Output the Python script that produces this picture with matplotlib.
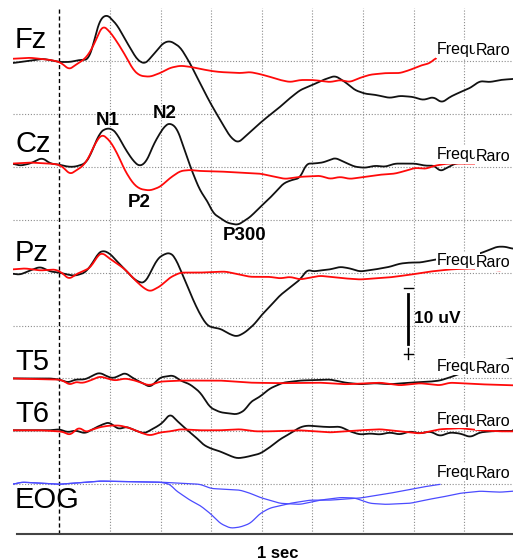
import numpy as np
import matplotlib
matplotlib.use("Agg")
import matplotlib.pyplot as plt

# ERP oddball averages, (ms, uV) pairs, negative up
# black = rare ("Raro"), red = frequent ("Frequ")
fz_rare = [(-92, 0.4), (-32, -0.4), (0, 0.2), (21, 0.2), (41, -0.2), (57, -0.2), (67, -3.0), (74, -5.8),
           (80, -7.8), (94, -8.8), (114, -6.8), (134, -3.4), (154, -0.2), (169, 0.6), (185, -1.1),
           (205, -3.4), (219, -3.8), (239, -2.6), (258, 0.4), (278, 4.2), (298, 7.9), (318, 11.2),
           (338, 14.4), (353, 15.5), (373, 13.8), (397, 11.7), (416, 10.2), (436, 8.7), (456, 7.0),
           (476, 5.5), (501, 4.5), (521, 3.6), (545, 2.8), (565, 4.0), (584, 5.5), (604, 6.2),
           (624, 6.4), (653, 7.0), (673, 6.6), (699, 6.8), (719, 7.4), (739, 6.8), (756, 7.9),
           (772, 6.8), (792, 5.9), (812, 5.1), (831, 3.8), (851, 4.0), (871, 3.6), (896, 3.4)]
fz_freq = [(-92, -0.4), (-58, -0.6), (-18, -0.2), (0, 0.2), (11, 0.9), (19, 1.7), (31, 0.8), (45, 0),
           (57, -1.1), (71, -3.6), (80, -5.7), (86, -6.7), (100, -5.5), (114, -3.6), (130, -1.1),
           (146, 1.7), (159, 2.8), (179, 3.0), (199, 2.3), (219, 1.3), (239, 0.9), (258, 1.1),
           (278, 1.5), (300, 1.9), (318, 2.1), (357, 2.3), (377, 2.1), (397, 2.5), (416, 3.0),
           (436, 3.6), (456, 4.0), (476, 3.6), (501, 3.6), (535, 4.0), (555, 3.6), (574, 4.0),
           (594, 3.2), (614, 2.6), (644, 2.3), (673, 2.3), (693, 1.7), (713, 0.9), (733, 0.4), (744, -0.6)]

cz_rare = [(-92, -0.6), (-78, -0.2), (-58, -0.6), (-34, -1.7), (-18, -0.6), (0, -0.4), (17, 0), (31, 0),
           (51, -0.6), (61, -2.1), (71, -4.5), (80, -6.4), (90, -7.2), (104, -7.2), (114, -6.2),
           (130, -3.4), (146, -1.1), (159, 0), (173, -1.1), (185, -4.0), (199, -6.4), (209, -7.8),
           (219, -8.3), (233, -7.2), (248, -3.0), (262, 0.8), (278, 4.5), (292, 6.4), (304, 8.8),
           (332, 10.6), (353, 11.0), (377, 9.5), (397, 7.6), (416, 5.9), (430, 4.5), (442, 3.2),
           (456, 2.6), (476, 2.1), (488, -0.6), (501, -0.6), (521, -0.8), (545, -1.7), (565, -0.8),
           (584, 0), (604, 0.2), (624, -0.2), (644, 0), (663, -0.6), (683, -0.6), (703, -0.6),
           (723, -0.2), (742, -0.2), (752, 0.9), (762, 0.4), (782, -0.6), (802, -0.9), (816, -1.5)]
cz_freq = [(-92, -0.6), (-58, -0.8), (-18, -0.6), (0, -0.4), (11, 0.4), (21, 1.5), (31, 0.8), (45, 0),
           (57, -1.5), (71, -4.5), (84, -6.2), (100, -4.9), (114, -2.6), (130, 0.8), (146, 3.2),
           (159, 4.2), (179, 4.5), (199, 3.8), (219, 2.1), (239, 0.8), (258, 0.6), (278, 0.8),
           (318, 0.9), (357, 1.1), (397, 1.3), (446, 2.3), (476, 1.9), (515, 1.7), (535, 2.3),
           (555, 1.9), (574, 2.3), (604, 1.9), (634, 1.5), (663, 1.3), (683, 0.8), (703, 0.2),
           (723, 0.4), (742, -0.2), (766, -0.6), (838, -0.6), (887, -0.6)]

pz_rare = [(-92, 0.2), (-78, 0.4), (-58, -0.4), (-38, -1.1), (-18, -0.2), (0, 0), (17, 0.4), (31, 0.6),
           (51, 0), (65, -1.7), (76, -3.6), (86, -4.2), (100, -3.6), (114, -2.1), (130, -0.6),
           (146, 1.1), (159, 1.9), (169, 1.9), (179, 0.2), (193, -2.5), (205, -3.4), (219, -3.8),
           (229, -2.8), (239, -0.6), (252, 2.3), (264, 5.1), (278, 7.9), (292, 10.0), (304, 10.4),
           (318, 10.6), (338, 11.7), (351, 12.1), (367, 11.3), (387, 9.6), (397, 8.3), (416, 6.4),
           (436, 4.3), (456, 2.8), (476, 1.3), (490, -0.6), (501, -0.2), (515, -0.4), (535, -0.6),
           (555, -1.1), (574, -0.8), (594, -0.2), (624, -0.6), (653, -1.1), (673, -1.7), (693, -1.9),
           (713, -1.9), (733, -2.3), (746, -2.5), (831, -3.6), (865, -4.9), (881, -4.9), (896, -4.5)]
pz_freq = [(-92, -0.6), (-68, -0.8), (-38, -0.4), (-8, -0.6), (5, 0), (19, 1.3), (31, 0.4), (45, -0.2),
           (61, -0.9), (76, -3.2), (84, -3.8), (100, -2.6), (114, -1.7), (130, -0.6), (146, 1.1),
           (165, 2.8), (179, 3.6), (199, 2.6), (219, 0.9), (239, 0), (278, 0), (328, -0.2), (377, 0.8),
           (416, 0.8), (436, 1.1), (456, 0.8), (476, 1.3), (515, 0.6), (565, 1.1), (594, 1.3),
           (653, 0.9), (693, 0.4), (733, -0.2), (772, -0.6), (812, -0.8), (871, -0.4)]

t5_rare = [(-92, 0), (-58, 0), (-18, 0), (0, 0.2), (17, 0.8), (31, 0.2), (51, 0.2), (71, -0.8), (80, -1.1),
           (94, -0.4), (106, 0), (120, -0.6), (130, -1.1), (140, -0.4), (154, 0.4), (169, 1.1),
           (179, 1.7), (189, 0.8), (199, -0.2), (213, -0.4), (225, -0.6), (239, 0.4), (258, 1.1),
           (278, 2.6), (298, 5.5), (318, 6.4), (351, 6.8), (367, 6.0), (377, 4.5), (397, 3.4),
           (416, 1.9), (442, 0.8), (476, 0.4), (535, 0.2), (565, 0.8), (594, 1.1), (624, 0.9),
           (653, 1.1), (693, 0.8), (733, 0.6), (752, 0.4), (772, -0.2), (792, -0.9), (812, -1.9),
           (885, -3.6), (896, -3.8)]
t5_freq = [(-92, 0), (-18, 0.2), (0, 0.2), (11, 0.6), (21, 1.3), (31, 0.6), (45, 0.9), (61, 0.4),
           (80, -0.4), (94, 0), (110, 0.4), (130, 0), (150, 0.4), (169, 1.1), (179, 1.3), (199, 0.6),
           (239, 0.4), (318, 0.4), (377, 0.8), (436, 0.9), (515, 0.8), (565, 1.1), (634, 0.8),
           (673, 1.3), (713, 0.9), (752, 1.3), (772, 0.8), (831, 1.1), (896, 1.3)]

t6_rare = [(-92, -0.2), (-18, -0.2), (0, -0.4), (17, 0.2), (31, -0.2), (51, 0.4), (65, -0.4), (76, -0.9),
           (90, -1.5), (100, -1.7), (110, -0.8), (120, -0.4), (130, -0.9), (140, -0.6), (154, 0),
           (169, 0.4), (179, -0.2), (193, -0.9), (205, -1.7), (219, -3.4), (229, -2.3), (245, -0.9),
           (258, 0.2), (272, 1.3), (284, 2.5), (298, 3.2), (318, 3.8), (334, 4.5), (351, 5.1),
           (367, 4.9), (397, 4.2), (416, 3.0), (436, 1.5), (456, 0.4), (476, -0.8), (490, -1.1),
           (515, -0.9), (535, -0.8), (555, -0.9), (574, 0), (594, 0.6), (614, 0.4), (634, 0.6),
           (653, 0.2), (673, 0.6), (693, 0), (713, 0.4), (733, 0), (752, 0.9), (772, 0.2), (792, 0.4),
           (812, 1.1), (831, 0.2), (851, 0), (896, -0.2)]
t6_freq = [(-92, -0.2), (-38, -0.2), (0, 0), (11, 0.2), (21, 0.8), (31, -0.2), (41, -0.8), (51, 0.2),
           (61, -0.2), (80, -0.8), (100, -1.1), (120, -1.1), (140, -0.6), (159, 0.2), (179, 0.8),
           (199, 0.2), (219, 0), (239, -0.4), (278, -0.2), (318, -0.2), (357, -0.4), (387, 0),
           (416, 0), (476, -0.2), (535, 0.2), (594, -0.2), (634, -0.4), (673, 0), (713, 0.4),
           (752, -0.4), (792, -0.6), (831, -0.2), (871, 0), (896, 0)]

eog_rare = [(-92, 0), (-74, -0.4), (0, 0), (80, -0.6), (199, -0.4), (219, 0), (229, 1.1), (258, 3.0),
            (278, 4.0), (298, 5.5), (318, 7.4), (338, 8.3), (357, 8.1), (377, 7.4), (397, 5.5),
            (416, 4.5), (456, 3.6), (495, 3.0), (535, 3.0), (594, 2.6), (653, 1.7), (713, 0.6), (752, 0)]
eog_freq = [(-92, 0), (-74, -0.4), (0, 0), (80, -0.6), (199, -0.4), (278, 0), (300, 0.8), (357, 1.1),
            (377, 1.7), (397, 2.5), (436, 3.6), (476, 3.8), (515, 3.0), (555, 2.5), (584, 2.6),
            (614, 3.6), (644, 3.8), (693, 3.6), (733, 2.8), (752, 2.5), (792, 1.7), (831, 1.3),
            (871, 1.5), (896, 1.3)]

channels = ['Fz', 'Cz', 'Pz', 'T5', 'T6', 'EOG']
offsets = [10, 30, 50, 70, 80, 90]   # row baselines, one grid row = 10 uV
rare = [fz_rare, cz_rare, pz_rare, t5_rare, t6_rare, eog_rare]
freq = [fz_freq, cz_freq, pz_freq, t5_freq, t6_freq, eog_freq]
name_y = [7.6, 27.2, 47.8, 68.4, 78.3, 94.5]

peaks = ['N1', 'N2', 'P2', 'P300']
peak_t = [71, 185, 136, 323]
peak_y = [22.1, 20.8, 37.6, 43.9]

font = ['Liberation Sans', 'DejaVu Sans']


def trace(points, win=7):
    # resample the read-off points every 2 ms and round the corners a bit
    t, v = np.array(points, dtype=float).T
    tt = np.arange(t[0], t[-1] + 0.1, 2.0)
    vv = np.interp(tt, t, v)
    pad = np.pad(vv, win // 2, mode='edge')
    vv = np.convolve(pad, np.ones(win) / win, mode='valid')
    return tt, vv


fig = plt.figure(figsize=(5.13, 5.6), dpi=100)
ax = fig.add_axes([0.0248, 0.0464, 0.9752, 0.9393])
ax.set_xlim(-92.2, 896.5)
ax.set_ylim(99.4, 0)
ax.axis('off')

dot = dict(color='#8c8c8c', lw=0.8, ls=(0, (1, 1.6)), zorder=1)
for t in range(100, 900, 100):
    ax.axvline(t, **dot)
for y in range(10, 100, 10):
    ax.axhline(y, **dot)
ax.axvline(0, color='black', lw=1, ls=(0, (3, 2)), zorder=2)
ax.axhline(99.4, xmin=0.009, color='#444444', lw=1.5, zorder=2, clip_on=False)

for i, ch in enumerate(channels):
    rt, rv = trace(rare[i])
    ft, fv = trace(freq[i])
    if ch == 'EOG':
        ax.plot(rt, offsets[i] + rv, color='#4b4bff', lw=0.9, zorder=3)
        ax.plot(ft, offsets[i] + fv, color='#4b4bff', lw=0.9, zorder=3)
    else:
        ax.plot(rt, offsets[i] + rv, color='#111111', lw=1.3, zorder=3)
        ax.plot(ft, offsets[i] + fv, color='#ff0a0a', lw=1.3, zorder=4)
    ax.text(-87.5, name_y[i], ch, fontsize=21, family=font, va='baseline', ha='left', zorder=6)
    box = dict(facecolor='white', edgecolor='none', boxstyle='square,pad=0.08')
    ax.text(746, offsets[i] - 1.4, 'Frequ', fontsize=11.5, family=font, va='baseline', ha='left',
            bbox=box, zorder=6)
    ax.text(823, offsets[i] - 1.1, 'Raro', fontsize=11.5, family=font, va='baseline', ha='left',
            bbox=box, zorder=7)

for name, t, y in zip(peaks, peak_t, peak_y):
    ax.text(t, y, name, fontsize=13.5, family=font, weight='bold', va='baseline', ha='left', zorder=6)

# 10 uV calibration bar
ax.plot([689, 689], [54.0, 63.5], color='black', lw=2, zorder=6)
ax.plot([681, 698], [53.0, 53.0], color='black', lw=1, zorder=6)
ax.plot([681, 698], [65.3, 65.3], color='black', lw=1, zorder=6)
ax.plot([689.5, 689.5], [64.3, 66.3], color='black', lw=1, zorder=6)
ax.text(701, 59.5, '10 uV', fontsize=12.5, family=font, weight='bold', va='baseline', ha='left', zorder=6)

ax.text(391, 104.0, '1 sec', fontsize=12, family=font, weight='bold', va='baseline', ha='left',
        clip_on=False)

fig.savefig('out.png', dpi=100)
